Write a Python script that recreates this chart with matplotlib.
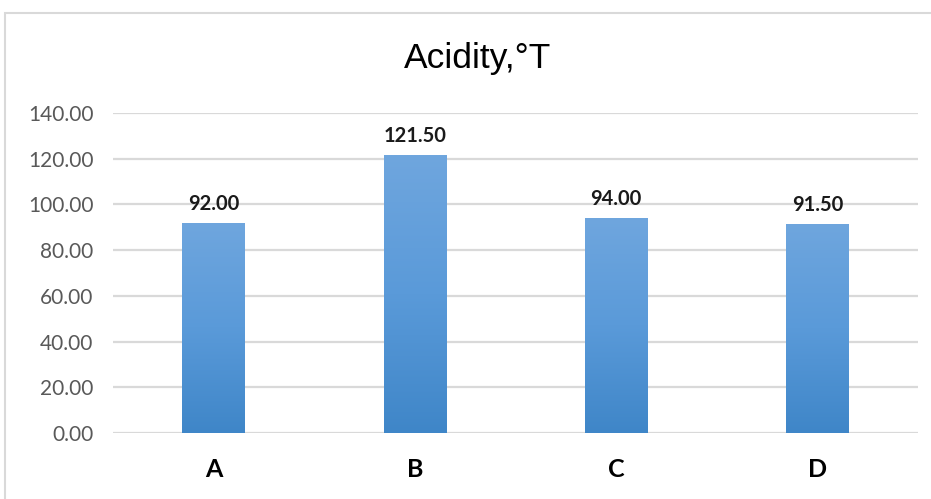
import matplotlib
matplotlib.use("Agg")
import matplotlib.pyplot as plt
import numpy as np
from matplotlib.patches import Rectangle
from matplotlib.colors import LinearSegmentedColormap

categories = ["A", "B", "C", "D"]
values = [92.00, 121.50, 94.00, 91.50]
yticks = [0, 20, 40, 60, 80, 100, 120, 140]
title = "Acidity,°T"

fig = plt.figure(figsize=(9.31, 4.99), dpi=100)
fig.patch.set_facecolor("white")
# outer chart border
fig.patches.append(Rectangle((5/931, -0.1), 1.2, 1 - 13/499 + 0.1, transform=fig.transFigure,
                             fill=False, edgecolor="#d9d9d9", linewidth=1.5))

ax = fig.add_axes([113/931, 1 - 433/499, (918 - 113)/931, (433 - 113)/499])
for s in ax.spines.values():
    s.set_visible(False)
ax.set_yticks(yticks)
ax.set_yticklabels([f"{v:.2f}" for v in yticks], fontfamily="Lato", fontsize=15, color="#595959")
ax.tick_params(axis="y", length=0, pad=14)
ax.tick_params(axis="x", length=0, pad=18)
ax.set_xticks(range(len(categories)))
ax.set_xticklabels(categories, fontfamily="Lato", fontweight="bold", fontsize=18, color="black")
ax.grid(axis="y", color="#d9d9d9", linewidth=1.6)
ax.set_axisbelow(True)

width = 0.31
grad = np.linspace(0, 1, 256).reshape(-1, 1)
cmap = LinearSegmentedColormap.from_list("g", ["#3f86c8", "#5a9ad9", "#6fa6de"])
bars = ax.bar(range(len(categories)), values, width=width, color="none", zorder=3)
for b, v in zip(bars, values):
    x0 = b.get_x()
    im = ax.imshow(grad, extent=(x0, x0 + width, 0, v), origin="lower", cmap=cmap,
                   aspect="auto", zorder=3)
    im.set_clip_path(b)
    ax.text(b.get_x() + width / 2, v + 4, f"{v:.2f}", ha="center", va="bottom",
            fontfamily="Lato", fontweight="bold", fontsize=14.5, color="#1a1a1a", zorder=4)
ax.set_xlim(-0.5, 3.5)
ax.set_ylim(0, 140)

fig.text(478/931, 1 - 68/499, title, ha="center", va="baseline", fontfamily="Liberation Sans",
         fontsize=25.5, color="black")

fig.savefig("out.png", dpi=100)
